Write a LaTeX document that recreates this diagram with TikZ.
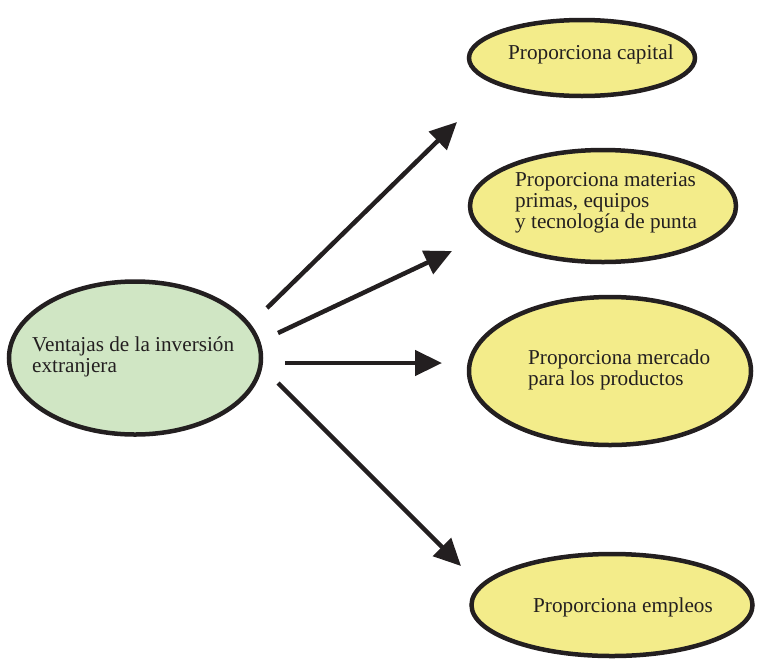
\documentclass[tikz,border=0pt]{standalone}
\usepackage{fontspec}
\setmainfont{Liberation Serif}
\usetikzlibrary{shapes.geometric,arrows.meta}
\definecolor{inkc}{RGB}{35,31,32}
\definecolor{greenf}{RGB}{208,230,196}
\definecolor{yellowf}{RGB}{243,236,138}
\tikzset{
  bubble/.style={ellipse, draw=inkc, line width=4.5pt, inner sep=0pt},
  greenbubble/.style={bubble, fill=greenf},
  yellowbubble/.style={bubble, fill=yellowf},
  label text/.style={anchor=base west, align=left, inner sep=0pt, text=inkc,
    font=\fontsize{21.2}{20.8}\selectfont},
  conn/.style={draw=inkc, line width=4.5pt, -{Triangle[length=27pt,width=25pt]}}
}
\begin{document}
\begin{tikzpicture}[x=1pt,y=-1pt]
\useasboundingbox (0,0) rectangle (757,662);
% ellipses
\node[greenbubble, minimum width=252pt, minimum height=153pt] (src) at (135,358) {};
\node[yellowbubble, minimum width=226pt, minimum height=76pt] (e1) at (582,58) {};
\node[yellowbubble, minimum width=266pt, minimum height=112pt] (e2) at (603,206) {};
\node[yellowbubble, minimum width=282pt, minimum height=148pt] (e3) at (610,371) {};
\node[yellowbubble, minimum width=281pt, minimum height=102pt] (e4) at (612,605) {};
% texts (anchor at baseline of last line)
\node[label text] (t0) at (32,372) {Ventajas de la inversión\\extranjera};
\node[label text] (t1) at (508,59) {Proporciona capital};
\node[label text] (t2) at (515,228) {Proporciona materias\\primas, equipos\\y tecnología de punta};
\node[label text] (t3) at (528,385) {Proporciona mercado\\para los productos};
\node[label text] (t4) at (533,612) {Proporciona empleos};
% connector ends
\coordinate (s1) at (267,308); \coordinate (d1) at (457,122);
\coordinate (s2) at (278,333); \coordinate (d2) at (452,251);
\coordinate (s3) at (285,363); \coordinate (d3) at (442,363);
\coordinate (s4) at (278,383); \coordinate (d4) at (461,566);
\draw[conn] (s1) -- (d1);
\draw[conn] (s2) -- (d2);
\draw[conn] (s3) -- (d3);
\draw[conn] (s4) -- (d4);
\end{tikzpicture}
\end{document}
